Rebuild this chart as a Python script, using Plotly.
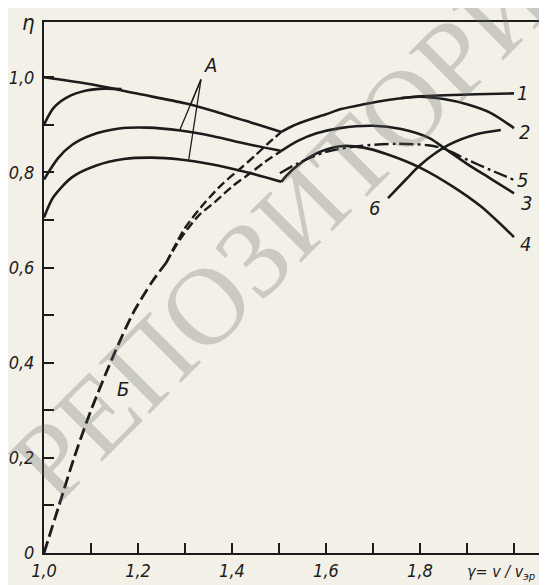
import plotly.graph_objects as go

# ---- data (gamma = v/v_эр, eta) ----
# left family "А"
a_top_x = [1.0, 1.1, 1.2, 1.3, 1.37, 1.44, 1.505]
a_top_y = [1.0, 0.985, 0.965, 0.945, 0.926, 0.905, 0.885]
a_up_x = [1.0, 1.02, 1.05, 1.09, 1.13, 1.165]
a_up_y = [0.90, 0.935, 0.958, 0.972, 0.976, 0.975]
a_mid_x = [1.0, 1.03, 1.06, 1.10, 1.16, 1.22, 1.29, 1.36, 1.43, 1.505]
a_mid_y = [0.785, 0.830, 0.858, 0.878, 0.892, 0.894, 0.888, 0.876, 0.860, 0.845]
a_low_x = [1.0, 1.02, 1.06, 1.11, 1.17, 1.23, 1.29, 1.35, 1.44, 1.505]
a_low_y = [0.705, 0.748, 0.790, 0.814, 0.828, 0.831, 0.827, 0.818, 0.798, 0.780]

# curve Б (dashed) trunk and its two branches
b_x = [1.0, 1.032, 1.064, 1.10, 1.15, 1.19, 1.23, 1.26]
b_y = [0.0, 0.10, 0.20, 0.30, 0.42, 0.505, 0.57, 0.61]
ba_x = [1.26, 1.30, 1.343, 1.38, 1.419, 1.45, 1.477, 1.505]
ba_y = [0.61, 0.683, 0.737, 0.776, 0.809, 0.836, 0.861, 0.885]
bb_x = [1.26, 1.29, 1.328, 1.364, 1.40, 1.44, 1.47, 1.505]
bb_y = [0.61, 0.66, 0.708, 0.738, 0.770, 0.799, 0.822, 0.845]

# right family 1..6
c1_x = [1.505, 1.53, 1.562, 1.60, 1.632, 1.68, 1.732, 1.80, 1.853, 1.92, 2.0]
c1_y = [0.885, 0.898, 0.910, 0.922, 0.933, 0.943, 0.952, 0.960, 0.962, 0.964, 0.966]
c2_x = [1.76, 1.80, 1.85, 1.90, 1.95, 2.0]
c2_y = [0.956, 0.959, 0.954, 0.943, 0.925, 0.893]
c3_x = [1.505, 1.54, 1.58, 1.63, 1.70, 1.76, 1.82, 1.853, 1.90, 1.95, 2.0]
c3_y = [0.845, 0.866, 0.882, 0.893, 0.898, 0.891, 0.872, 0.850, 0.818, 0.787, 0.756]
c4_x = [1.505, 1.515, 1.54, 1.58, 1.63, 1.68, 1.73, 1.80, 1.87, 1.93, 2.0]
c4_y = [0.780, 0.792, 0.815, 0.840, 0.855, 0.852, 0.838, 0.810, 0.770, 0.728, 0.664]
c5_x = [1.502, 1.54, 1.60, 1.668, 1.75, 1.817, 1.85, 1.902, 1.95, 2.0]
c5_y = [0.798, 0.819, 0.843, 0.855, 0.860, 0.857, 0.850, 0.826, 0.805, 0.784]
c6_x = [1.732, 1.77, 1.80, 1.86, 1.92, 1.972]
c6_y = [0.746, 0.785, 0.815, 0.857, 0.880, 0.889]

# leader lines from label "А"
lead_apex = (1.334, 0.995)
lead_ends_x = [1.311, 1.289, 1.308]
lead_ends_y = [0.940, 0.889, 0.827]

# tick labels
x_ticks = [1.0, 1.1, 1.2, 1.3, 1.4, 1.5, 1.6, 1.7, 1.8, 1.9, 2.0]
x_labels = ["1,0", "", "1,2", "", "1,4", "", "1,6", "", "1,8", "", ""]
y_ticks = [0.0, 0.1, 0.2, 0.3, 0.4, 0.5, 0.6, 0.7, 0.8, 0.9, 1.0]
y_labels = ["0", "", "0,2", "", "0,4", "", "0,6", "", "0,8", "", "1,0"]

INK = "#1c1c1c"
BG = "#f3f1e7"
LW = 2.6

fig = go.Figure()

def add(x, y, dash="solid", width=LW):
    fig.add_trace(go.Scatter(x=x, y=y, mode="lines",
                             line=dict(color=INK, width=width, dash=dash,
                                       shape="spline", smoothing=0.8),
                             hoverinfo="skip", showlegend=False))

for xs, ys in [(a_top_x, a_top_y), (a_up_x, a_up_y), (a_mid_x, a_mid_y),
               (a_low_x, a_low_y), (c1_x, c1_y), (c2_x, c2_y), (c3_x, c3_y),
               (c4_x, c4_y), (c6_x, c6_y)]:
    add(xs, ys)

add(b_x, b_y, dash="12px,5px", width=2.8)
add(ba_x, ba_y, dash="9px,4px", width=2.4)
add(bb_x, bb_y, dash="9px,4px", width=2.4)
add(c5_x, c5_y, dash="14px,4px,3px,4px", width=2.4)

for ex, ey in zip(lead_ends_x, lead_ends_y):
    fig.add_trace(go.Scatter(x=[lead_apex[0], ex], y=[lead_apex[1], ey],
                             mode="lines", line=dict(color=INK, width=1.3),
                             hoverinfo="skip", showlegend=False))

LBL = dict(family="DejaVu Sans Condensed, DejaVu Sans, sans-serif", size=20,
           color=INK, style="italic")

labels = [("1", 2.018, 0.966), ("2", 2.022, 0.885), ("5", 2.018, 0.783),
          ("3", 2.027, 0.735), ("4", 2.025, 0.650), ("6", 1.704, 0.725),
          ("А", 1.355, 1.025), ("Б", 1.168, 0.345)]
for t, x, y in labels:
    fig.add_annotation(x=x, y=y, text=t, showarrow=False, font=LBL,
                       xanchor="center", yanchor="middle")

fig.add_annotation(xref="paper", yref="paper", x=-0.03, y=1.0, text="η",
                   showarrow=False, font=dict(LBL, size=22),
                   xanchor="center", yanchor="middle")
fig.add_annotation(xref="paper", yref="paper", x=0.985, y=-0.036,
                   text="γ= v / v<sub>эр</sub>", showarrow=False,
                   font=dict(LBL, size=16), xanchor="right", yanchor="middle")

# watermark
fig.add_annotation(xref="paper", yref="paper", x=0.527, y=0.66,
                   xanchor="center", yanchor="middle",
                   text="РЕПОЗИТОРИЙ", textangle=-45, showarrow=False,
                   font=dict(family="Liberation Serif, DejaVu Serif, serif",
                             size=110, color="rgba(100,100,100,0.28)"))

TF = dict(family="DejaVu Sans Condensed, DejaVu Sans, sans-serif", size=18,
          color=INK, style="italic")
fig.update_xaxes(range=[1.0, 2.066], tickvals=x_ticks, ticktext=x_labels,
                 ticks="inside", ticklen=10, tickwidth=1.5, tickcolor=INK,
                 showline=True, linewidth=2, linecolor=INK, mirror=True,
                 showgrid=False, zeroline=False, tickfont=TF, automargin=False)
fig.update_yaxes(range=[0.0, 1.116], tickvals=y_ticks, ticktext=y_labels,
                 ticks="inside", ticklen=10, tickwidth=1.5, tickcolor=INK,
                 showline=True, linewidth=2, linecolor=INK, mirror=True,
                 showgrid=False, zeroline=False, tickfont=TF, automargin=False,
                 ticklabelstandoff=4)

fig.update_layout(width=547, height=585, paper_bgcolor=BG, plot_bgcolor=BG,
                  margin=dict(l=36, r=10, t=14, b=40), showlegend=False)

fig.write_html("out.html")
